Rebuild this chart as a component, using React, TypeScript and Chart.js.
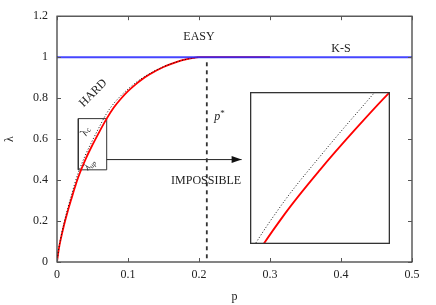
import React, { useEffect, useRef } from 'react';
import { Chart, registerables } from 'chart.js';
Chart.register(...registerables);

// ---- data ----
const pGrid = [0, 0.0025, 0.005, 0.01, 0.015, 0.02, 0.025, 0.03, 0.04, 0.05, 0.06, 0.07, 0.08, 0.09, 0.1, 0.11, 0.12, 0.13, 0.14, 0.15, 0.16, 0.17, 0.18, 0.19, 0.2, 0.21, 0.3];
const lambdaRed = [0, 0.062, 0.107, 0.182, 0.247, 0.305, 0.362, 0.415, 0.5, 0.572, 0.638, 0.7, 0.754, 0.797, 0.834, 0.865, 0.892, 0.915, 0.935, 0.952, 0.966, 0.978, 0.988, 0.995, 1, 1, 1];
const lambdaDotted = [0, 0.066, 0.113, 0.193, 0.261, 0.322, 0.383, 0.436, 0.522, 0.594, 0.662, 0.726, 0.774, 0.812, 0.8445, 0.873, 0.898, 0.919, 0.9375, 0.9535, 0.9668, 0.9785, 0.988, 0.995, 1, null, null];
const ksP = [0, 0.5];
const ksLambda = [1, 1];
const pStar = 0.211;
const pStarLambda = [0.975, 0];
const zoomP = [0.03, 0.07];
const zoomLambda = [0.45, 0.7];
const arrowP = [0.07, 0.26];
const arrowLambda = 0.5;
const insetP = [0.2718, 0.469];
const insetLambda = [0.0878, 0.829];
const xTicks = [0, 0.1, 0.2, 0.3, 0.4, 0.5];
const xTickLabels = ['0', '0.1', '0.2', '0.3', '0.4', '0.5'];
const yTicks = [0, 0.2, 0.4, 0.6, 0.8, 1, 1.2];
const yTickLabels = ['0', '0.2', '0.4', '0.6', '0.8', '1', '1.2'];

const FONT = "'Liberation Serif', 'Times New Roman', serif";
const INK = '#222';

function pts(xs: number[], ys: (number | null)[]) {
  return xs.map((x, i) => ({ x, y: ys[i] }));
}

function subLabel(ctx: CanvasRenderingContext2D, x: number, y: number, rot: number, main: string, sub: string, size: number) {
  ctx.save();
  ctx.translate(x, y);
  ctx.rotate((rot * Math.PI) / 180);
  ctx.font = `italic ${size}px ${FONT}`;
  const w1 = ctx.measureText(main).width;
  ctx.font = `italic ${size * 0.7}px ${FONT}`;
  const w2 = ctx.measureText(sub).width;
  const total = w1 + w2;
  ctx.textBaseline = 'alphabetic';
  ctx.textAlign = 'left';
  ctx.font = `italic ${size}px ${FONT}`;
  ctx.fillText(main, -total / 2, size * 0.35);
  ctx.font = `italic ${size * 0.7}px ${FONT}`;
  ctx.fillText(sub, -total / 2 + w1, size * 0.35 + size * 0.2);
  ctx.restore();
}

const annotations = {
  id: 'annotations',
  afterDatasetsDraw(chart: any) {
    const ctx: CanvasRenderingContext2D = chart.ctx;
    const xs = chart.scales.x;
    const ys = chart.scales.y;
    const X = (v: number) => xs.getPixelForValue(v);
    const Y = (v: number) => ys.getPixelForValue(v);
    const a = chart.chartArea;
    ctx.save();
    // frame
    ctx.strokeStyle = '#333';
    ctx.lineWidth = 1.2;
    ctx.strokeRect(a.left, a.top, a.right - a.left, a.bottom - a.top);
    // inner ticks, mirrored
    ctx.strokeStyle = '#555';
    ctx.lineWidth = 1;
    ctx.beginPath();
    xTicks.forEach((v) => {
      const px = Math.round(X(v)) + 0.5;
      ctx.moveTo(px, a.bottom);
      ctx.lineTo(px, a.bottom - 4);
      ctx.moveTo(px, a.top);
      ctx.lineTo(px, a.top + 4);
    });
    yTicks.forEach((v) => {
      const py = Math.round(Y(v)) + 0.5;
      ctx.moveTo(a.left, py);
      ctx.lineTo(a.left + 4, py);
      ctx.moveTo(a.right, py);
      ctx.lineTo(a.right - 4, py);
    });
    ctx.stroke();
    // arrow head
    const tx = X(arrowP[1]);
    const ty = Y(arrowLambda);
    ctx.fillStyle = '#111';
    ctx.beginPath();
    ctx.moveTo(tx, ty);
    ctx.lineTo(tx - 10, ty - 3.5);
    ctx.lineTo(tx - 10, ty + 3.5);
    ctx.closePath();
    ctx.fill();
    // texts
    ctx.fillStyle = INK;
    ctx.textAlign = 'center';
    ctx.textBaseline = 'middle';
    ctx.font = `12px ${FONT}`;
    ctx.fillText('EASY', X(0.2), Y(1.1));
    ctx.fillText('K-S', X(0.4), Y(1.039));
    ctx.fillText('IMPOSSIBLE', X(0.21), Y(0.397));
    ctx.save();
    ctx.translate(X(0.051), Y(0.824));
    ctx.rotate(-Math.PI / 4);
    ctx.fillText('HARD', 0, 0);
    ctx.restore();
    // p*
    ctx.textAlign = 'left';
    ctx.textBaseline = 'alphabetic';
    ctx.font = `italic 12px ${FONT}`;
    const px0 = X(0.2215);
    const py0 = Y(0.693);
    ctx.fillText('p', px0, py0);
    const pw = ctx.measureText('p').width;
    ctx.font = `9px ${FONT}`;
    ctx.fillText('*', px0 + pw, py0 - 4);
    // lambda labels in zoom box
    subLabel(ctx, X(0.038), Y(0.64), -72, 'λ', 'c', 11);
    subLabel(ctx, X(0.045), Y(0.478), -50, 'λ', 'up', 10);
    ctx.restore();
  },
};

const insetFrame = {
  id: 'insetFrame',
  afterDraw(chart: any) {
    const ctx: CanvasRenderingContext2D = chart.ctx;
    const a = chart.chartArea;
    ctx.save();
    ctx.strokeStyle = '#333';
    ctx.lineWidth = 1.3;
    ctx.strokeRect(a.left + 0.65, a.top + 0.65, a.right - a.left - 1.3, a.bottom - a.top - 1.3);
    ctx.restore();
  },
};

export default function App() {
  const mainRef = useRef<HTMLCanvasElement>(null);
  const insetRef = useRef<HTMLCanvasElement>(null);

  useEffect(() => {
    if (!mainRef.current || !insetRef.current) return;
    const tickFont = { family: FONT, size: 12 };
    const main = new Chart(mainRef.current, {
      type: 'line',
      data: {
        datasets: [
          {
            data: pts(pGrid, lambdaRed),
            borderColor: '#ff0000',
            borderWidth: 1.8,
            pointRadius: 0,
            cubicInterpolationMode: 'monotone',
            order: 3,
          },
          {
            data: pts(pGrid, lambdaDotted),
            borderColor: '#111',
            borderWidth: 1,
            borderDash: [1, 2],
            pointRadius: 0,
            cubicInterpolationMode: 'monotone',
            spanGaps: false,
            order: 2,
          },
          {
            data: pts(ksP, ksLambda),
            borderColor: 'rgba(40,40,255,0.86)',
            borderWidth: 2,
            pointRadius: 0,
            order: 0,
          },
          {
            data: pts([pStar, pStar], pStarLambda),
            borderColor: '#333',
            borderWidth: 1.8,
            borderDash: [4, 4],
            pointRadius: 0,
            order: 1,
          },
          {
            data: pts([zoomP[0], zoomP[1], zoomP[1], zoomP[0], zoomP[0]], [zoomLambda[0], zoomLambda[0], zoomLambda[1], zoomLambda[1], zoomLambda[0]]),
            borderColor: '#333',
            borderWidth: 1,
            pointRadius: 0,
            order: 4,
          },
          {
            data: pts(arrowP, [arrowLambda, arrowLambda]),
            borderColor: '#222',
            borderWidth: 1,
            pointRadius: 0,
            order: 1,
          },
        ],
      } as any,
      options: {
        animation: false,
        responsive: false,
        events: [],
        layout: { padding: { top: 16, right: 24, left: 0, bottom: 0 } },
        plugins: { legend: { display: false }, tooltip: { enabled: false } },
        scales: {
          x: {
            type: 'linear',
            min: 0,
            max: 0.5,
            grid: { display: false, drawTicks: false },
            border: { display: false },
            ticks: {
              padding: 6,
              font: tickFont,
              color: INK,
              maxRotation: 0,
              autoSkip: false,
              callback: (_v: any, i: number) => xTickLabels[i],
            },
            title: { display: true, text: 'p', font: tickFont, color: INK, padding: { top: 0, bottom: 1 } },
            afterBuildTicks: (s: any) => {
              s.ticks = xTicks.map((value) => ({ value }));
            },
            afterFit: (s: any) => {
              s.height = 43;
            },
          },
          y: {
            type: 'linear',
            min: 0,
            max: 1.2,
            grid: { display: false, drawTicks: false },
            border: { display: false },
            ticks: {
              padding: 9,
              font: tickFont,
              color: INK,
              autoSkip: false,
              callback: (_v: any, i: number) => yTickLabels[i],
            },
            title: { display: true, text: 'λ', font: tickFont, color: INK, padding: { top: 3, bottom: 0 } },
            afterBuildTicks: (s: any) => {
              s.ticks = yTicks.map((value) => ({ value }));
            },
            afterFit: (s: any) => {
              s.width = 57;
            },
          },
        },
      } as any,
      plugins: [annotations],
    });

    // inset placed via the main chart's scales
    const xs: any = main.scales.x;
    const ys: any = main.scales.y;
    const left = Math.round(xs.getPixelForValue(insetP[0]));
    const right = Math.round(xs.getPixelForValue(insetP[1]));
    const top = Math.round(ys.getPixelForValue(insetLambda[1]));
    const bottom = Math.round(ys.getPixelForValue(insetLambda[0]));
    const ic = insetRef.current;
    ic.style.left = left + 'px';
    ic.style.top = top + 'px';
    ic.width = right - left;
    ic.height = bottom - top;

    const inset = new Chart(ic, {
      type: 'line',
      data: {
        datasets: [
          {
            data: pts(pGrid, lambdaRed),
            borderColor: '#ff0000',
            borderWidth: 1.8,
            pointRadius: 0,
            cubicInterpolationMode: 'monotone',
            order: 1,
          },
          {
            data: pts(pGrid, lambdaDotted),
            borderColor: '#111',
            borderWidth: 1,
            borderDash: [1, 2],
            pointRadius: 0,
            cubicInterpolationMode: 'monotone',
            order: 0,
          },
        ],
      } as any,
      options: {
        animation: false,
        responsive: false,
        events: [],
        layout: { padding: 0 },
        plugins: { legend: { display: false }, tooltip: { enabled: false } },
        scales: {
          x: { type: 'linear', min: zoomP[0], max: zoomP[1], display: false },
          y: { type: 'linear', min: zoomLambda[0], max: zoomLambda[1], display: false },
        },
      } as any,
      plugins: [insetFrame],
    });

    return () => {
      inset.destroy();
      main.destroy();
    };
  }, []);

  return (
    <div style={{ position: 'fixed', left: 0, top: 0, width: 436, height: 305, background: '#fff' }}>
      <canvas ref={mainRef} width={436} height={305} style={{ position: 'absolute', left: 0, top: 0 }} />
      <canvas ref={insetRef} style={{ position: 'absolute', background: '#fff' }} />
    </div>
  );
}
